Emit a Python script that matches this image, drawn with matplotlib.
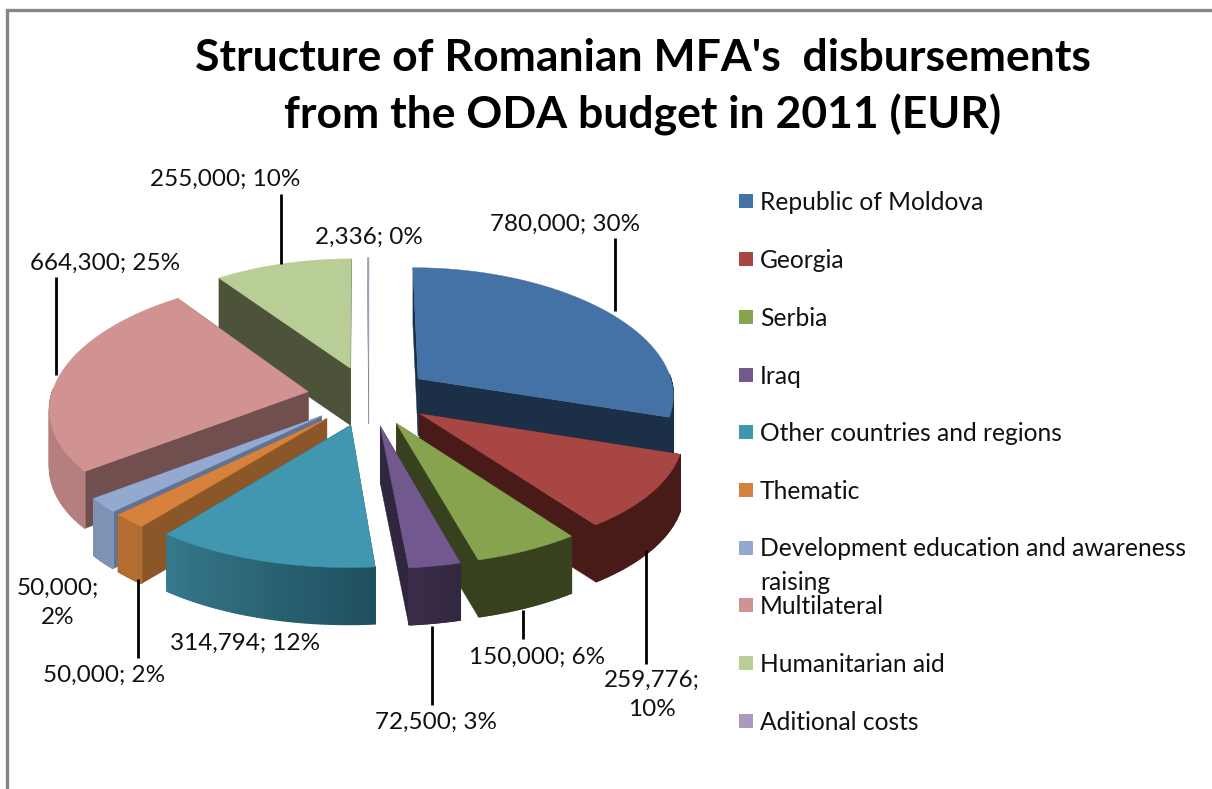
import numpy as np
from matplotlib import pyplot as plt
from matplotlib.patches import Polygon, Rectangle

categories = ["Republic of Moldova", "Georgia", "Serbia", "Iraq", "Other countries and regions",
              "Thematic", "Development education and awareness\nraising", "Multilateral",
              "Humanitarian aid", "Aditional costs"]
values = [780000, 259776, 150000, 72500, 314794, 50000, 50000, 664300, 255000, 2336]
percents = [30, 10, 6, 3, 12, 2, 2, 25, 10, 0]

colors = ["#4472a6", "#a84644", "#88a34e", "#71588f", "#4197af", "#d6823c", "#93a9cf", "#d19392", "#b9cd96", "#a99bbd"]
cut_colors = ["#1b2f47", "#481b19", "#37411e", "#30263f", "#1f5565", "#8b5628", "#5f7397", "#714f4f", "#4d5339", "#8a8a9a"]
rim_left = ["#1b2f47", "#481b19", "#37411e", "#3c2c4c", "#36798c", "#b36d30", "#7e92b3", "#b57f7f", "#4d5339", "#8a8a9a"]
rim_right = ["#1b2f47", "#481b19", "#37411e", "#33283f", "#1f4f5e", "#b36d30", "#7e92b3", "#b57f7f", "#4d5339", "#8a8a9a"]

# back to front
draw_order = [8, 9, 7, 0, 6, 5, 4, 1, 2, 3]

# pie geometry, in pixels
cx, cy = 369, 396
rx, ry = 257, 124
persp_x = 0.12
persp_y = 0.09
explode = 0.24
depth = 57

# label text position, leader line
label_pos = [(565, 224), (652, 695), (537, 657), (436, 722), (245, 643), (104, 675), (58, 603), (105, 263), (225, 179), (369, 237)]
leaders = [((615, 238), (615, 311)), ((646, 550), (646, 664)), ((523, 610), (523, 639)), ((432, 626), (432, 705)),
           None, ((138, 579), (138, 658)), None, ((56, 277), (56, 375)), ((281, 194), (281, 264)), None]

legend_y = [201, 259, 317, 375, 432, 490, 548, 605, 663, 721]

font = "Lato"


def project(u, v, z=0):
    return cx + rx * u / (1 + persp_x * v), cy - ry * v / (1 + persp_y * v) + z


def shade(c1, c2, t):
    a = np.array(plt.matplotlib.colors.to_rgb(c1))
    b = np.array(plt.matplotlib.colors.to_rgb(c2))
    return tuple(a + (b - a) * t)


fig = plt.figure(figsize=(12.12, 7.89), dpi=100)
ax = fig.add_axes([0, 0, 1, 1])
ax.set_xlim(0, 1212)
ax.set_ylim(789, 0)
ax.axis("off")

# chart frame, only left and top are inside the crop
ax.plot([7, 7, 1212], [789, 10, 10], color="#868686", lw=2.4, solid_joinstyle="miter", zorder=1)

fracs = np.array(values) / sum(values)
starts = np.concatenate([[0], np.cumsum(fracs)[:-1]]) * 2 * np.pi
ends = np.cumsum(fracs) * 2 * np.pi

z = 2
for i in draw_order:
    a0, a1 = starts[i], ends[i]
    mid = (a0 + a1) / 2
    ou, ov = explode * np.sin(mid), explode * np.cos(mid)
    th = np.linspace(a0, a1, 60)
    us = ou + np.sin(th)
    vs = ov + np.cos(th)
    top = [project(ou, ov)] + [project(u, v) for u, v in zip(us, vs)]

    # the two cut walls
    for th_edge in (a0, a1):
        u, v = ou + np.sin(th_edge), ov + np.cos(th_edge)
        wall = [project(ou, ov), project(u, v), project(u, v, depth), project(ou, ov, depth)]
        ax.add_patch(Polygon(wall, closed=True, fc=cut_colors[i], ec=cut_colors[i], lw=0.3, zorder=z))
        z += 1

    # outer rim, short strips so it can shade left to right
    for k in range(len(th) - 1):
        if np.cos(th[k]) > 0.02 and np.cos(th[k + 1]) > 0.02:
            continue
        p1 = project(us[k], vs[k])
        p2 = project(us[k + 1], vs[k + 1])
        t = k / (len(th) - 2)
        col = shade(rim_left[i], rim_right[i], 1 - t)
        quad = [p1, p2, (p2[0], p2[1] + depth), (p1[0], p1[1] + depth)]
        ax.add_patch(Polygon(quad, closed=True, fc=col, ec=col, lw=1.0, zorder=z))
    z += 1

    ax.add_patch(Polygon(top, closed=True, fc=colors[i], ec=colors[i], lw=0.3, zorder=z))
    z += 1

ax.text(643, 87, "Structure of Romanian MFA's  disbursements\nfrom the ODA budget in 2011 (EUR)",
        ha="center", va="center", fontsize=32, fontweight="bold", family=font, linespacing=1.45,
        color="black", zorder=z)

for i in range(len(values)):
    txt = f"{values[i]:,}; {percents[i]}%"
    if i == 1 or i == 6:
        txt = f"{values[i]:,};\n{percents[i]}%"
    ax.text(label_pos[i][0], label_pos[i][1], txt, ha="center", va="center", fontsize=17.5, family=font,
            color="#111111", linespacing=1.45, zorder=z)
    if leaders[i] is not None:
        p, q = leaders[i]
        ax.plot([p[0], q[0]], [p[1], q[1]], color="black", lw=2, solid_capstyle="butt", zorder=z)

for i in range(len(categories)):
    ax.add_patch(Rectangle((739, legend_y[i] - 7), 14, 14, fc=colors[i], ec="none", zorder=z))
    ax.text(760, legend_y[i] + 1, categories[i].split("\n")[0], ha="left", va="center", fontsize=17.7,
            family=font, color="#111111", zorder=z)
    if "\n" in categories[i]:
        ax.text(760, legend_y[i] + 34, categories[i].split("\n")[1], ha="left", va="center", fontsize=17.7,
                family=font, color="#111111", zorder=z)

fig.savefig("out.png", dpi=100, facecolor="white")
